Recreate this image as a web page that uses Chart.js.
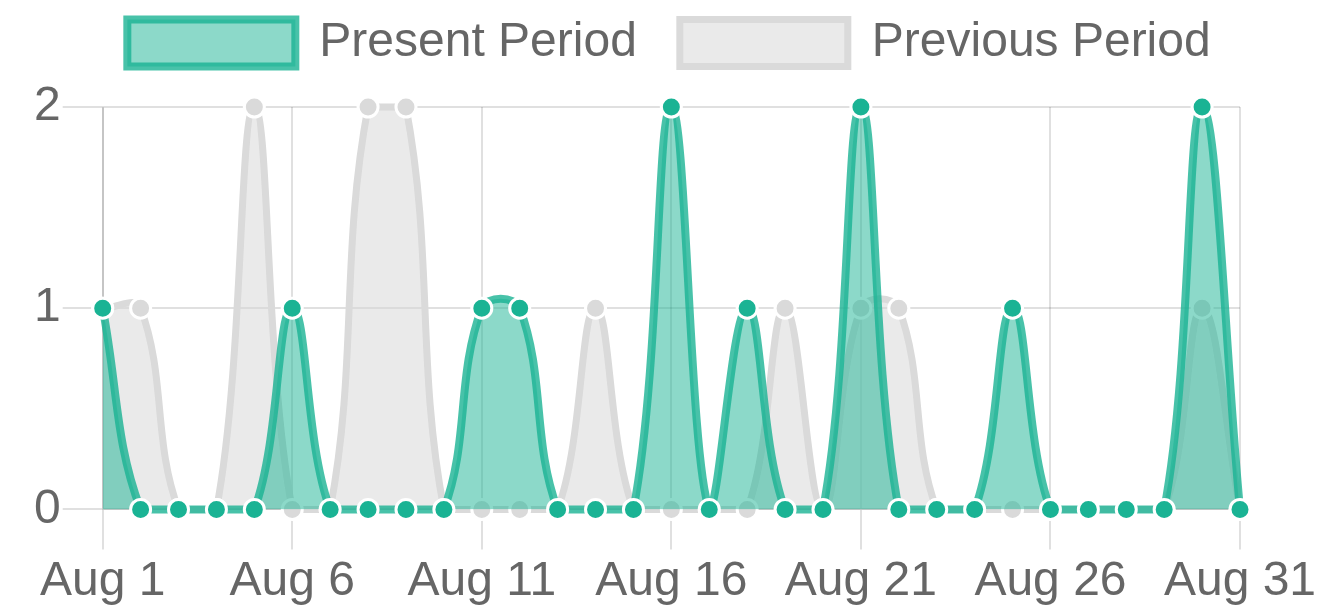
<!DOCTYPE html>
<html><head><meta charset="utf-8">
<script src="https://cdn.jsdelivr.net/npm/chart.js@4.4.1/dist/chart.umd.min.js"></script>
<style>html,body{margin:0;padding:0;background:#fff;} canvas{display:block;}</style>
</head><body>
<canvas id="c" width="1338" height="607"></canvas>
<script>
const categories = ["Aug 1","Aug 2","Aug 3","Aug 4","Aug 5","Aug 6","Aug 7","Aug 8","Aug 9","Aug 10",
  "Aug 11","Aug 12","Aug 13","Aug 14","Aug 15","Aug 16","Aug 17","Aug 18","Aug 19","Aug 20",
  "Aug 21","Aug 22","Aug 23","Aug 24","Aug 25","Aug 26","Aug 27","Aug 28","Aug 29","Aug 30","Aug 31"];
const presentPeriod  = [1,0,0,0,0,1,0,0,0,0,1,1,0,0,0,2,0,1,0,0,2,0,0,0,1,0,0,0,0,2,0];
const previousPeriod = [1,1,0,0,2,0,0,2,2,0,0,0,0,1,0,0,0,0,1,0,1,1,0,0,0,0,0,0,0,1,0];
const seriesNames = ["Present Period", "Previous Period"];
const yTicks = [0, 1, 2];
const labelEvery = 5;

const FONT = "'Helvetica Neue', Helvetica, Arial, 'Liberation Sans', sans-serif";
const gridColor = 'rgba(0,0,0,0.12)';
const textColor = '#666';

const legendTweak = {
  id: 'legendTweak',
  beforeLayout(chart) {
    const lg = chart.legend;
    if (lg && !lg.__patched) {
      const f = lg.fit;
      lg.fit = function () { f.call(this); this.height += 30; };
      lg.__patched = true;
    }
  },
  afterLayout(chart) {
    const lg = chart.legend;
    if (lg) { lg.left = 0; lg.right = chart.width; lg.width = chart.width; }
  }
};

new Chart(document.getElementById('c'), {
  type: 'line',
  data: {
    labels: categories,
    datasets: [
      {
        label: seriesNames[0], data: presentPeriod, fill: true, tension: 0.4, clip: false,
        backgroundColor: 'rgba(26,179,148,0.5)', borderColor: 'rgba(26,179,148,0.8)', borderWidth: 8,
        pointBackgroundColor: 'rgba(26,179,148,1)', pointBorderColor: '#fff', pointBorderWidth: 3, pointRadius: 10
      },
      {
        label: seriesNames[1], data: previousPeriod, fill: true, tension: 0.4, clip: false,
        backgroundColor: 'rgba(214,214,214,0.5)', borderColor: 'rgba(218,218,218,1)', borderWidth: 7,
        pointBackgroundColor: 'rgba(218,218,218,1)', pointBorderColor: '#fff', pointBorderWidth: 3, pointRadius: 10
      }
    ]
  },
  options: {
    responsive: false, animation: false, devicePixelRatio: 1,
    layout: { padding: { top: -24, left: 32, right: 98, bottom: -8 } },
    plugins: {
      legend: {
        position: 'top',
        labels: { font: { family: FONT, size: 48 }, color: textColor, boxWidth: 168, boxHeight: 47, padding: 43 }
      },
      tooltip: { enabled: false }
    },
    scales: {
      x: {
        grid: { color: c => (c.index % labelEvery === 0 ? gridColor : 'rgba(0,0,0,0)'), lineWidth: 2, tickLength: 40 },
        border: { color: gridColor, width: 2 },
        ticks: {
          autoSkip: false, maxRotation: 0, minRotation: 0, padding: 4,
          font: { family: FONT, size: 48 }, color: textColor,
          callback: function (v, i) { return i % labelEvery === 0 ? this.getLabelForValue(v) : ''; }
        }
      },
      y: {
        min: yTicks[0], max: yTicks[yTicks.length - 1],
        afterBuildTicks: axis => { axis.ticks = yTicks.map(v => ({ value: v })); },
        grid: { color: gridColor, lineWidth: 2, tickLength: 40 },
        border: { color: gridColor, width: 2 },
        ticks: { padding: 2, font: { family: FONT, size: 48 }, color: textColor }
      }
    }
  },
  plugins: [legendTweak]
});
</script>
</body></html>
